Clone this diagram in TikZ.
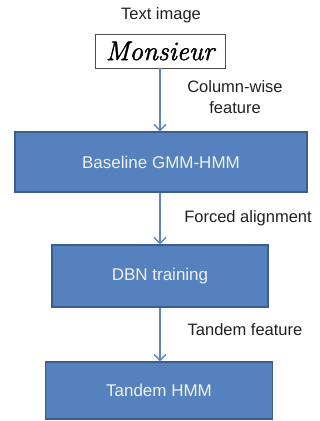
\documentclass[tikz,border=0pt]{standalone}
\usepackage{fontspec}
\setmainfont{Liberation Sans}
\newfontfamily\handfont[FakeBold=1.5]{Latin Modern Roman}
\usetikzlibrary{arrows.meta}
\definecolor{boxfill}{HTML}{5582BE}
\definecolor{boxline}{HTML}{3A5F8F}
\definecolor{arrowcol}{HTML}{5A86C2}
\definecolor{labcol}{HTML}{202020}
\tikzset{
  stage/.style={draw=boxline, line width=1.2pt, fill=boxfill, text=white!94!black, font=\fontsize{17}{20}\selectfont, inner sep=0pt},
  flow/.style={draw=arrowcol, line width=1.4pt, -{Straight Barb[length=6pt,width=12pt,line width=1.4pt]}},
  lab/.style={text=labcol, font=\fontsize{16.5}{21}\selectfont, align=center}
}
\begin{document}
\begin{tikzpicture}[x=1pt,y=-1pt]
\useasboundingbox (0,0) rectangle (320,421);
\node[lab] (title) at (161,15) {Text image};
\node[draw=black!70, line width=0.8pt, minimum width=130pt, minimum height=34pt, inner sep=0pt, font=\handfont\fontsize{27}{27}\selectfont\itshape] (img) at (160,51) {Monsieur};
\node[stage, minimum width=292pt, minimum height=60pt] (base) at (161,162) {Baseline GMM-HMM};
\node[stage, minimum width=216pt, minimum height=62pt] (dbn) at (160,276) {DBN training};
\node[stage, minimum width=227pt, minimum height=57pt] (tand) at (159,390.5) {Tandem HMM};
\draw[flow] (img.south -| 160,0) -- (base.north -| 160,0);
\draw[flow] (base.south -| 160,0) -- (dbn.north -| 160,0);
\draw[flow] (dbn.south -| 160,0) -- (tand.north -| 160,0);
\node[lab] (l1) at (235,97.5) {Column-wise\\feature};
\node[lab] (l2) at (248,218) {Forced alignment};
\node[lab] (l3) at (245,330) {Tandem feature};
\end{tikzpicture}
\end{document}
